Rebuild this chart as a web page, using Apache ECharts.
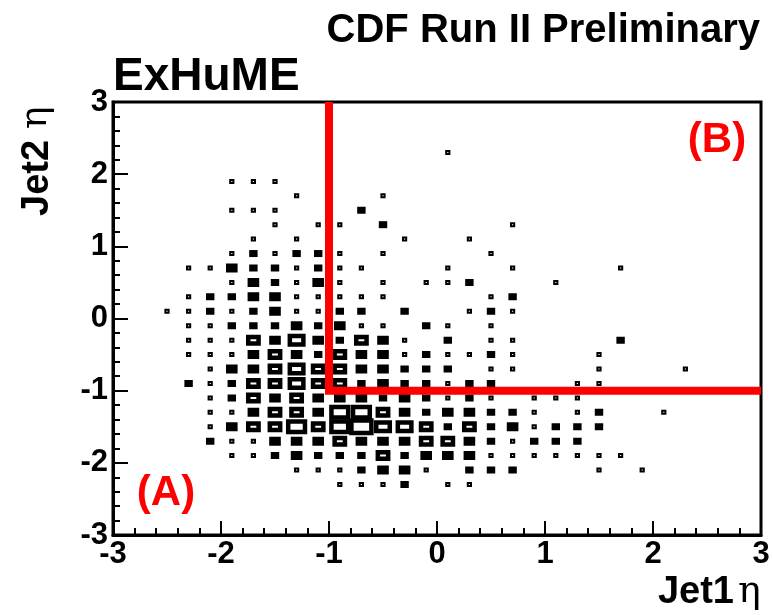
<!DOCTYPE html>
<html>
<head>
<meta charset="utf-8">
<script src="https://cdn.jsdelivr.net/npm/echarts@6/dist/echarts.min.js"></script>
<style>
  html, body { margin: 0; padding: 0; background: #fff; }
  #chart { width: 773px; height: 615px; }
</style>
</head>
<body>
<div id="chart"></div>
<script>
// bin centres (eta), bins are 0.2 wide
var jet1Eta = [-2.5, -2.3, -2.1, -1.9, -1.7, -1.5, -1.3, -1.1, -0.9, -0.7, -0.5, -0.3, -0.1,
               0.1, 0.3, 0.5, 0.7, 0.9, 1.1, 1.3, 1.5, 1.7, 1.9, 2.1, 2.3];
var jet2Eta = [2.3, 2.1, 1.9, 1.7, 1.5, 1.3, 1.1, 0.9, 0.7, 0.5, 0.3, 0.1,
               -0.1, -0.3, -0.5, -0.7, -0.9, -1.1, -1.3, -1.5, -1.7, -1.9, -2.1, -2.3];
// entries per bin, one row per jet2Eta value, columns follow jet1Eta
var binCounts = [
  [0,0,0,0,0,0,0,0,0,0,0,0,0,1,0,0,0,0,0,0,0,0,0,0,0],
  [0,0,0,0,0,0,0,0,0,0,0,0,0,0,0,0,0,0,0,0,0,0,0,0,0],
  [0,0,0,1,1,1,0,0,0,0,0,0,0,0,0,0,0,0,0,0,0,0,0,0,0],
  [0,0,0,0,0,0,1,0,0,0,1,0,0,0,0,0,0,0,0,0,0,0,0,0,0],
  [0,0,0,1,1,1,0,0,0,2,0,0,0,0,0,0,0,0,0,0,0,0,0,0,0],
  [0,0,0,0,0,1,0,1,1,0,2,0,0,0,0,0,1,0,0,0,0,0,0,0,0],
  [0,0,0,0,1,0,1,0,0,0,0,1,0,0,1,0,0,0,0,0,0,0,0,0,0],
  [0,0,0,1,2,1,2,2,1,0,1,0,0,0,0,1,0,0,0,0,0,0,0,0,0],
  [0,1,1,3,2,2,1,2,1,1,0,0,0,1,0,0,1,0,0,0,0,1,0,0,0],
  [0,0,0,1,3,2,1,3,1,0,1,0,1,1,2,0,0,0,1,0,0,0,0,0,0],
  [0,1,2,2,3,3,1,1,1,1,1,0,0,0,0,1,2,0,0,0,0,0,0,0,0],
  [1,1,2,1,2,3,1,1,2,2,0,2,0,0,1,2,1,0,0,0,0,0,0,0,0],
  [0,1,1,2,2,2,3,2,3,1,1,0,2,1,0,1,0,0,0,0,0,0,0,0,0],
  [0,1,1,1,4,3,5,3,2,4,3,1,0,2,0,1,1,0,0,0,0,2,0,0,0],
  [0,1,1,1,3,4,3,2,4,3,3,1,2,1,1,2,1,0,0,0,1,0,0,0,0],
  [0,0,1,3,3,4,5,4,4,3,3,2,2,2,0,1,1,0,0,0,1,0,0,0,1],
  [0,2,1,2,4,4,5,4,4,2,3,2,2,1,2,2,0,0,0,1,1,0,0,0,0],
  [0,0,1,2,4,3,4,3,3,3,2,3,2,1,2,1,0,1,1,1,0,0,0,0,0],
  [0,0,1,1,3,4,4,3,6,6,4,3,2,3,3,2,2,1,0,1,2,0,0,1,0],
  [0,0,1,3,4,4,6,4,6,7,5,5,4,2,4,2,3,1,2,2,2,0,0,0,0],
  [0,0,2,1,1,3,3,3,4,3,3,3,4,4,3,2,1,2,2,2,0,0,0,0,0],
  [0,0,0,1,1,2,3,2,2,2,4,2,3,3,3,1,1,1,1,1,1,1,0,0,0],
  [0,0,0,0,0,0,1,1,1,2,3,3,1,0,2,2,2,0,0,0,1,0,1,0,0],
  [0,0,0,0,0,0,0,0,1,1,1,2,0,1,1,0,0,0,0,0,0,0,0,0,0]
];
var binWidth = 0.2;
var maxCount = 7;
// cut lines of the (A)/(B) regions
var cutLineX = [-1, -1, 3];
var cutLineY = [3, -1, -1];

var boxData = [];
binCounts.forEach(function (row, j) {
  row.forEach(function (c, i) {
    if (c > 0) boxData.push([jet1Eta[i], jet2Eta[j], c]);
  });
});
var cutData = cutLineX.map(function (x, i) { return [x, cutLineY[i]]; });

var chart = echarts.init(document.getElementById('chart'));
var labelFont = 'Liberation Sans';

function axisBase(tickLen) {
  return {
    type: 'value',
    min: -3,
    max: 3,
    interval: 1,
    axisLine: { show: true, onZero: false, lineStyle: { color: '#000', width: 3 } },
    axisTick: { show: true, inside: true, length: tickLen, lineStyle: { color: '#000', width: 2 } },
    minorTick: { show: true, splitNumber: 5, length: 7, lineStyle: { color: '#000', width: 2 } },
    splitLine: { show: false },
    axisLabel: {
      color: '#000',
      fontFamily: labelFont,
      fontWeight: 'bold',
      fontSize: 31,
      showMinLabel: true,
      showMaxLabel: true
    }
  };
}

var xAxis = axisBase(14);
xAxis.axisLabel.margin = 4;
var yAxis = axisBase(15);
yAxis.axisLabel.margin = 5;

chart.setOption({
  animation: false,
  backgroundColor: '#fff',
  grid: {
    left: 113,
    right: 12,
    top: 102,
    bottom: 80,
    show: true,
    borderColor: '#000',
    borderWidth: 3,
    backgroundColor: 'transparent'
  },
  xAxis: xAxis,
  yAxis: yAxis,
  graphic: [
    {
      type: 'text', right: 13, top: 11, z: 10,
      style: { text: 'CDF Run II Preliminary', font: 'bold 40px "Liberation Sans"', fill: '#000' }
    },
    {
      type: 'text', x: 113, y: 77, z: 10,
      style: { text: 'ExHuME', font: 'bold 46px "Liberation Sans"', fill: '#000', textVerticalAlign: 'middle' }
    },
    {
      type: 'text', x: 734, y: 593, z: 10,
      style: { text: 'Jet1', font: 'bold 38px "Liberation Sans"', fill: '#000', textAlign: 'right', textVerticalAlign: 'middle' }
    },
    {
      type: 'text', x: 738, y: 592, z: 10,
      style: { text: 'η', font: '38px "DejaVu Serif"', fill: '#000', textAlign: 'left', textVerticalAlign: 'middle' }
    },
    {
      type: 'group', x: 38, y: 216, rotation: Math.PI / 2, z: 10,
      children: [
        {
          type: 'text', x: 0, y: 0,
          style: { text: 'Jet2', font: 'bold 38px "Liberation Sans"', fill: '#000', textAlign: 'left', textVerticalAlign: 'middle' }
        },
        {
          type: 'text', x: 87, y: -2,
          style: { text: 'η', font: '38px "DejaVu Serif"', fill: '#000', textAlign: 'left', textVerticalAlign: 'middle' }
        }
      ]
    },
    {
      type: 'text', x: 166, y: 493, z: 10,
      style: { text: '(A)', font: 'bold 42px "Liberation Sans"', fill: '#ff0000', textAlign: 'center', textVerticalAlign: 'middle' }
    },
    {
      type: 'text', x: 717, y: 140, z: 10,
      style: { text: '(B)', font: 'bold 42px "Liberation Sans"', fill: '#ff0000', textAlign: 'center', textVerticalAlign: 'middle' }
    }
  ],
  series: [
    {
      type: 'custom',
      name: 'ExHuME',
      data: boxData,
      renderItem: function (params, api) {
        var c = api.value(2);
        var p = api.coord([api.value(0), api.value(1)]);
        var bin = api.size([binWidth, binWidth]);
        var w = 2 + bin[0] * 1.04 * c / maxCount;
        var h = 3 + bin[1] * 0.97 * c / maxCount;
        // single entries keep a small hole, larger boxes get a heavy outline
        var lw = c <= 1 ? (h - 1) / 2 : Math.min(4.5, h / 2);
        return {
          type: 'rect',
          shape: { x: p[0] - w / 2 + lw / 2, y: p[1] - h / 2 + lw / 2, width: w - lw, height: h - lw },
          style: { fill: 'none', stroke: '#000', lineWidth: lw }
        };
      }
    },
    {
      type: 'line',
      data: cutData,
      symbol: 'none',
      z: 5,
      lineStyle: { color: '#ff0000', width: 8, cap: 'butt', join: 'miter' }
    }
  ]
});
</script>
</body>
</html>
